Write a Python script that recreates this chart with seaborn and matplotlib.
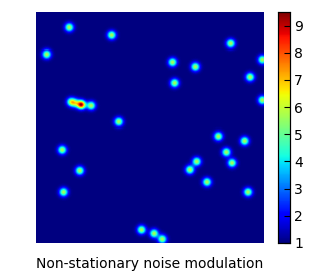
import numpy as np
import matplotlib
matplotlib.use("Agg")
import matplotlib.pyplot as plt
import seaborn as sns

# spot centres (percent of width / height) and their heights above the floor
spot_x = [14.6, 33.2, 4.7, 85.4, 59.9, 69.9, 99.3, 93.9, 60.8, 99.3,
          15.4, 17.3, 19.9, 24.2, 36.3, 80.0, 91.5, 11.5, 83.5, 70.5,
          86.0, 67.5, 19.2, 75.0, 12.1, 93.0, 46.3, 51.8, 55.4]
spot_y = [6.7, 10.1, 18.2, 13.7, 21.6, 23.6, 20.5, 28.1, 30.7, 38.2,
          39.0, 39.5, 40.2, 40.6, 47.6, 53.7, 55.7, 59.6, 60.6, 64.7,
          65.3, 68.3, 68.7, 73.7, 78.1, 78.1, 94.2, 95.8, 98.3]
spot_amp = [4.7, 4.7, 4.7, 4.7, 4.7, 4.7, 4.7, 4.7, 4.7, 4.7,
            4.7, 3.5, 8.0, 4.7, 4.7, 4.7, 4.7, 4.7, 4.7, 4.7,
            4.7, 4.7, 4.7, 4.7, 4.7, 4.7, 4.7, 4.7, 4.7]
floor_value = 1.0
spot_width = 1.3
cbar_ticks = [1, 2, 3, 4, 5, 6, 7, 8, 9]

n = 228
yy, xx = (np.mgrid[0:n, 0:n] + 0.5) * 100.0 / n
field = np.full((n, n), floor_value)
for x0, y0, a in zip(spot_x, spot_y, spot_amp):
    field += a * np.exp(-((xx - x0) ** 2 + (yy - y0) ** 2) / (2 * spot_width ** 2))

fig = plt.figure(figsize=(3.09, 2.77), dpi=100)
ax = fig.add_axes([36 / 309, 34 / 277, 228 / 309, 231 / 277])
cax = fig.add_axes([278 / 309, 34 / 277, 12 / 309, 231 / 277])

sns.heatmap(field, ax=ax, cmap="jet", vmin=1, vmax=9.5, cbar_ax=cax,
            xticklabels=False, yticklabels=False, rasterized=True)
ax.set_xlabel("Non-stationary noise modulation", fontsize=10, labelpad=10)

cax.set_yticks(cbar_ticks)
cax.tick_params(direction="in", length=4, width=0.8, labelsize=10, pad=3)
for s in cax.spines.values():
    s.set_visible(True)
    s.set_color("black")
    s.set_linewidth(0.8)

fig.savefig("out.png", dpi=100)
